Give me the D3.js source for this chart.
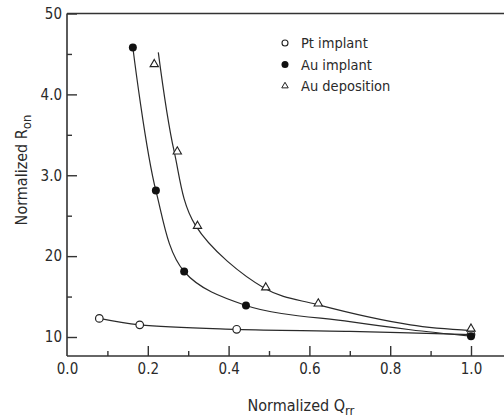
<html>
<script src='https://d3js.org/d3.v7.min.js'></script>
<style>
 body {margin:0; background:#fff;}
 text {font-family:"DejaVu Sans Condensed","DejaVu Sans",sans-serif; fill:#2a2a2a;}
</style>
<body>
<svg width=504 height=418></svg>
<script>
// data
var ptQ   = [0.08, 0.18, 0.42, 1.0],
    ptR   = [12.3, 11.5, 10.95, 10.3];
var auQ   = [0.163, 0.22, 0.29, 0.443, 1.0],
    auR   = [45.8, 28.1, 18.1, 13.9, 10.1];
var depQ  = [0.216, 0.273, 0.323, 0.492, 0.622, 1.0],
    depR  = [43.6, 32.8, 23.6, 16.0, 14.0, 10.9];

// hand-drawn fit curves as seen in the picture
var ptFitQ  = [0.08, 0.18, 0.42, 0.7, 1.0],
    ptFitR  = [12.3, 11.5, 10.95, 10.7, 10.3];
var auFitQ  = [0.163, 0.22, 0.29, 0.443, 0.7, 0.85, 1.0],
    auFitR  = [45.8, 28.1, 18.1, 13.9, 11.9, 10.9, 10.1];
var depFitQ = [0.226, 0.265, 0.318, 0.49, 0.62, 0.85, 1.0],
    depFitR = [45.2, 33.0, 23.8, 16.0, 14.0, 11.5, 10.8];

var xTicks = [0, 0.2, 0.4, 0.6, 0.8, 1.0],
    xTickLabels = ["0.0", "0.2", "0.4", "0.6", "0.8", "1.0"],
    xMinor = [0.1, 0.3, 0.5, 0.7, 0.9];
var yTicks = [10, 20, 30, 40, 50],
    yTickLabels = ["10", "20", "3.0", "4.0", "50"],
    yMinor = [15, 25, 35, 45];

var legendNames = ["Pt implant", "Au implant", "Au deposition"];

var svg = d3.select("svg");

var x = d3.scaleLinear().domain([0, 1]).range([67, 471]);
var y = d3.scaleLinear().domain([10, 50]).range([337, 13.5]);
var bottom = 356, right = 504;

// frame
var frame = svg.append("g").attr("stroke", "#333").attr("stroke-width", 1.6).attr("fill", "none");
frame.append("line").attr("x1", x(0)).attr("x2", x(0)).attr("y1", y(50)).attr("y2", bottom);
frame.append("line").attr("x1", x(0)).attr("x2", right).attr("y1", bottom).attr("y2", bottom);
frame.append("line").attr("x1", x(0)).attr("x2", right).attr("y1", y(50)).attr("y2", y(50));

// axes (ticks pointing inward)
var xAxis = svg.append("g")
   .attr("transform", "translate(0," + bottom + ")")
   .call(d3.axisBottom(x).tickValues(xTicks).tickSize(-10).tickPadding(7)
        .tickFormat(function(d, i) { return xTickLabels[i]; }));
svg.append("g")
   .attr("transform", "translate(0," + bottom + ")")
   .call(d3.axisBottom(x).tickValues(xMinor).tickSize(-5).tickFormat(""));

var yAxis = svg.append("g")
   .attr("transform", "translate(" + x(0) + ",0)")
   .call(d3.axisLeft(y).tickValues(yTicks).tickSize(-10).tickPadding(5)
        .tickFormat(function(d, i) { return yTickLabels[i]; }));
svg.append("g")
   .attr("transform", "translate(" + x(0) + ",0)")
   .call(d3.axisLeft(y).tickValues(yMinor).tickSize(-5).tickFormat(""));

svg.selectAll(".domain").remove();
svg.selectAll(".tick line").attr("stroke", "#333").attr("stroke-width", 1.4);
svg.selectAll(".tick text").attr("font-size", 15)
   .style("font-family", "'DejaVu Sans Condensed','DejaVu Sans',sans-serif").attr("fill", "#2a2a2a");
xAxis.selectAll(".tick").filter(function(d) { return d === 0; }).select("line").remove();

// fit curves
var line = d3.line()
   .x(function(d) { return x(d[0]); })
   .y(function(d) { return y(d[1]); })
   .curve(d3.curveCatmullRom.alpha(0.5));

[[ptFitQ, ptFitR], [auFitQ, auFitR], [depFitQ, depFitR]].forEach(function(s) {
  svg.append("path")
     .attr("d", line(d3.zip(s[0], s[1])))
     .attr("fill", "none").attr("stroke", "#2a2a2a").attr("stroke-width", 1.2);
});

// markers
svg.selectAll(".pt").data(d3.zip(ptQ, ptR)).enter().append("circle")
   .attr("cx", function(d) { return x(d[0]); }).attr("cy", function(d) { return y(d[1]); })
   .attr("r", 3.8).attr("fill", "#fff").attr("stroke", "#222").attr("stroke-width", 1.2);

svg.selectAll(".au").data(d3.zip(auQ, auR)).enter().append("circle")
   .attr("cx", function(d) { return x(d[0]); }).attr("cy", function(d) { return y(d[1]); })
   .attr("r", 4).attr("fill", "#111");

var tri = d3.symbol().type(d3.symbolTriangle).size(30);
svg.selectAll(".dep").data(d3.zip(depQ, depR)).enter().append("path")
   .attr("d", tri)
   .attr("transform", function(d) { return "translate(" + x(d[0]) + "," + (y(d[1]) - 1) + ")"; })
   .attr("fill", "#fff").attr("stroke", "#222").attr("stroke-width", 1.1);

// legend
var legend = svg.append("g").attr("transform", "translate(285,43)");
legendNames.forEach(function(name, i) {
  var g = legend.append("g").attr("transform", "translate(0," + (i * 21.5) + ")");
  if (i === 0) g.append("circle").attr("r", 3).attr("fill", "#fff").attr("stroke", "#222").attr("stroke-width", 1.1);
  if (i === 1) g.append("circle").attr("r", 3.5).attr("fill", "#111");
  if (i === 2) g.append("path").attr("d", d3.symbol().type(d3.symbolTriangle).size(18))
                .attr("fill", "#fff").attr("stroke", "#222").attr("stroke-width", 1);
  g.append("text").attr("x", 16).attr("dy", "0.35em").attr("font-size", 14.5).text(name);
});

// axis titles
svg.append("text")
   .attr("transform", "translate(27,170) rotate(-90)")
   .attr("text-anchor", "middle").attr("font-size", 16)
   .text("Normalized R")
   .append("tspan").attr("dy", 4).attr("font-size", 13).text("on");

svg.append("text")
   .attr("x", 301).attr("y", 411)
   .attr("text-anchor", "middle").attr("font-size", 16)
   .text("Normalized Q")
   .append("tspan").attr("dy", 4).attr("font-size", 13).text("rr");
</script>
</body>
</html>
